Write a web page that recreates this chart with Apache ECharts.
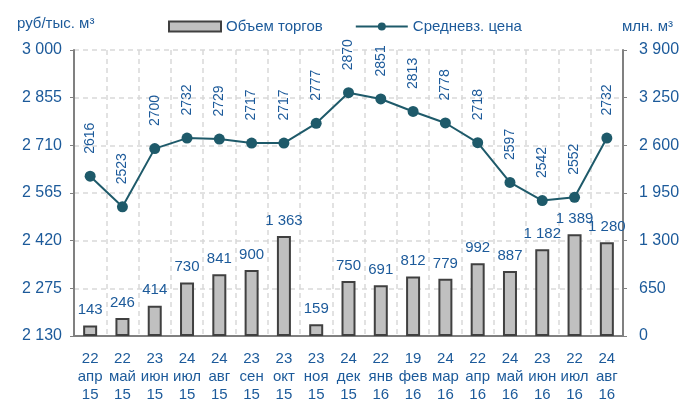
<!DOCTYPE html>
<html>
<head>
<meta charset="utf-8">
<script src="https://cdn.jsdelivr.net/npm/echarts@6/dist/echarts.min.js"></script>
<style>
  html, body { margin: 0; padding: 0; background: #fff; }
  #chart { width: 693px; height: 404px; }
</style>
</head>
<body>
<div id="chart"></div>
<script>
  // категории: день / месяц / год
  var days = ['22', '22', '23', '24', '24', '23', '23', '23', '24', '22', '19', '24', '22', '24', '23', '22', '24'];
  var months = ['апр', 'май', 'июн', 'июл', 'авг', 'сен', 'окт', 'ноя', 'дек', 'янв', 'фев', 'мар', 'апр', 'май', 'июн', 'июл', 'авг'];
  var years = ['15', '15', '15', '15', '15', '15', '15', '15', '15', '16', '16', '16', '16', '16', '16', '16', '16'];

  var volume = [143, 246, 414, 730, 841, 900, 1363, 159, 750, 691, 812, 779, 992, 887, 1182, 1389, 1280];
  var price = [2616, 2523, 2700, 2732, 2729, 2717, 2717, 2777, 2870, 2851, 2813, 2778, 2718, 2597, 2542, 2552, 2732];

  var categories = days.map(function (d, i) { return d + '\n' + months[i] + '\n' + years[i]; });

  var textColor = '#1c5a9a';
  var lineColor = '#1e5a6a';
  var font = '"Liberation Sans", Arial, sans-serif';

  function spaced(v) {
    return String(v).replace(/\B(?=(\d{3})+(?!\d))/g, ' ');
  }

  var chart = echarts.init(document.getElementById('chart'));
  chart.setOption({
    animation: false,
    textStyle: { fontFamily: font, color: textColor },
    title: [
      { text: 'руб/тыс. м³', left: 12, top: 11, textStyle: { fontSize: 15, fontWeight: 'normal', color: textColor } },
      { text: 'млн. м³', right: 15, top: 14, textStyle: { fontSize: 15, fontWeight: 'normal', color: textColor } }
    ],
    legend: {
      left: 168,
      top: 19,
      padding: 0,
      itemGap: 32,
      itemWidth: 52,
      itemHeight: 10,
      textStyle: { fontSize: 15, color: textColor },
      data: [
        { name: 'Объем торгов', icon: 'rect' },
        { name: 'Средневз. цена' }
      ]
    },
    grid: { left: 74, right: 70, top: 50, bottom: 68 },
    xAxis: {
      type: 'category',
      data: categories,
      axisLine: { lineStyle: { color: '#808080', width: 2 } },
      axisTick: { show: false },
      axisLabel: { color: textColor, fontSize: 15, lineHeight: 18, margin: 14, interval: 0 },
      splitLine: { show: true, lineStyle: { color: '#d9d9d9', type: [5, 4], width: 1.5 } }
    },
    yAxis: [
      {
        type: 'value',
        min: 2130,
        max: 3000,
        interval: 145,
        axisLine: { show: true, lineStyle: { color: '#808080', width: 2 } },
        axisTick: { show: true, length: 4 },
        axisLabel: { color: textColor, fontSize: 16, margin: 12, formatter: spaced },
        splitLine: { lineStyle: { color: '#d9d9d9', type: [5, 4], width: 1.5 } }
      },
      {
        type: 'value',
        min: 0,
        max: 3900,
        interval: 650,
        axisLine: { show: true, lineStyle: { color: '#808080', width: 2 } },
        axisTick: { show: true, length: 4 },
        axisLabel: { color: textColor, fontSize: 16, margin: 16, formatter: spaced },
        splitLine: { show: false }
      }
    ],
    series: [
      {
        name: 'Объем торгов',
        type: 'bar',
        yAxisIndex: 1,
        data: volume,
        barWidth: 14,
        itemStyle: { color: '#c0c0c0', borderColor: '#404040', borderWidth: 2 },
        label: {
          show: true,
          position: 'top',
          distance: 8,
          fontSize: 15,
          color: textColor,
          formatter: function (p) { return spaced(p.value); }
        },
        z: 2
      },
      {
        name: 'Средневз. цена',
        type: 'line',
        yAxisIndex: 0,
        data: price,
        symbol: 'circle',
        symbolSize: 11,
        lineStyle: { color: lineColor, width: 2 },
        itemStyle: { color: lineColor },
        label: {
          show: true,
          position: 'top',
          distance: 17,
          rotate: 90,
          align: 'left',
          verticalAlign: 'middle',
          fontSize: 14,
          color: textColor
        },
        z: 3
      }
    ]
  });
</script>
</body>
</html>
